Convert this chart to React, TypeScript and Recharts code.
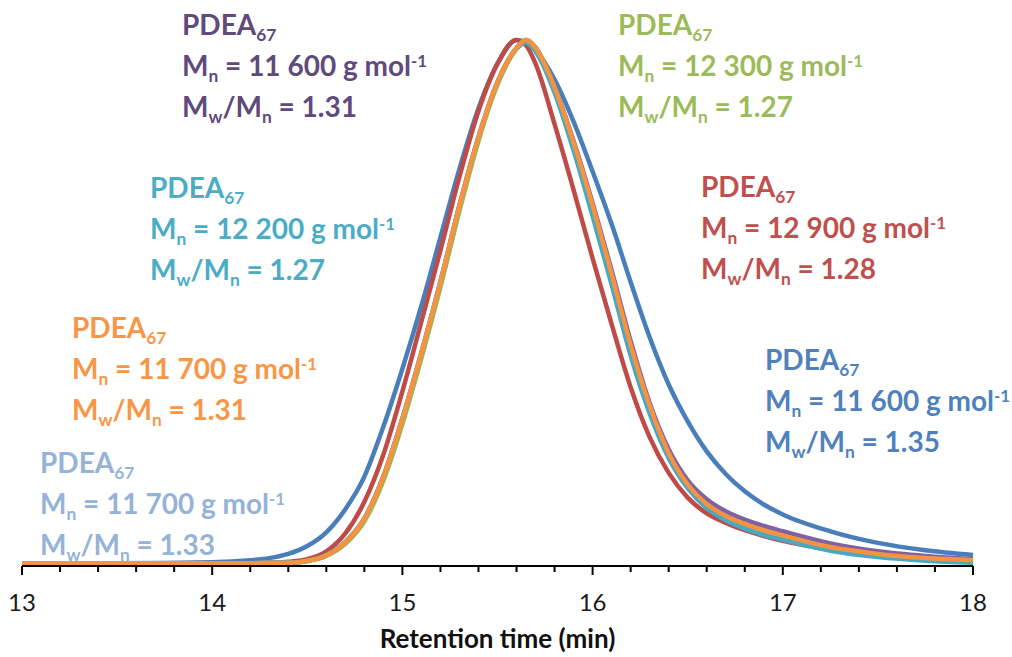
import React from "react";
import { LineChart, Line, XAxis, YAxis } from "recharts";

// retention time (min) at which the traces were read
const times = [
  13, 13.5, 14, 14.2, 14.3, 14.4, 14.5, 14.6, 14.7, 14.8, 14.9, 15, 15.1, 15.2,
  15.3, 15.4, 15.5, 15.6, 15.65, 15.7, 15.8, 15.9, 16, 16.1, 16.2, 16.3, 16.4,
  16.5, 16.6, 16.7, 16.8, 16.9, 17, 17.25, 17.5, 17.75, 18,
];

// normalised RI signal, one array per sample
const blueTrace = [
  0.005, 0.005, 0.007, 0.011, 0.015, 0.023, 0.038, 0.064, 0.108, 0.17, 0.265,
  0.375, 0.495, 0.625, 0.755, 0.87, 0.955, 1.0, 0.995, 0.98, 0.925, 0.845, 0.75,
  0.65, 0.54, 0.435, 0.345, 0.275, 0.218, 0.175, 0.142, 0.117, 0.098, 0.066,
  0.044, 0.03, 0.021,
];
const redTrace = [
  0.004, 0.004, 0.004, 0.005, 0.006, 0.008, 0.013, 0.028, 0.062, 0.122, 0.212,
  0.332, 0.465, 0.6, 0.74, 0.865, 0.955, 1.0, 0.99, 0.955, 0.84, 0.715, 0.585,
  0.46, 0.34, 0.245, 0.177, 0.13, 0.1, 0.082, 0.068, 0.057, 0.048, 0.031, 0.02,
  0.013, 0.008,
];
const orangeTrace = [
  0.005, 0.005, 0.005, 0.005, 0.006, 0.006, 0.01, 0.02, 0.045, 0.09, 0.17, 0.28,
  0.405, 0.54, 0.685, 0.815, 0.92, 0.985, 1.0, 0.985, 0.91, 0.805, 0.685, 0.555,
  0.42, 0.305, 0.215, 0.155, 0.118, 0.095, 0.08, 0.068, 0.058, 0.036, 0.023,
  0.015, 0.011,
];
const tealTrace = [
  0.005, 0.005, 0.005, 0.005, 0.006, 0.006, 0.01, 0.021, 0.046, 0.091, 0.171,
  0.281, 0.406, 0.541, 0.686, 0.816, 0.92, 0.984, 0.995, 0.978, 0.9, 0.79,
  0.665, 0.535, 0.4, 0.29, 0.205, 0.148, 0.11, 0.087, 0.071, 0.059, 0.05, 0.029,
  0.017, 0.01, 0.006,
];
const purpleTrace = [
  0.005, 0.005, 0.005, 0.005, 0.006, 0.006, 0.01, 0.02, 0.045, 0.09, 0.17, 0.28,
  0.405, 0.54, 0.685, 0.815, 0.92, 0.985, 1.0, 0.986, 0.912, 0.808, 0.69,
  0.562, 0.428, 0.31, 0.222, 0.163, 0.127, 0.104, 0.088, 0.076, 0.066, 0.043,
  0.028, 0.019, 0.013,
];
const greenTrace = [
  0.005, 0.005, 0.005, 0.005, 0.006, 0.006, 0.009, 0.019, 0.042, 0.085, 0.162,
  0.27, 0.395, 0.53, 0.675, 0.808, 0.915, 0.983, 1.0, 0.986, 0.91, 0.803, 0.682,
  0.552, 0.416, 0.3, 0.212, 0.152, 0.115, 0.092, 0.077, 0.065, 0.055, 0.034,
  0.021, 0.014, 0.01,
];
const lightBlueTrace = [
  0.005, 0.005, 0.005, 0.005, 0.006, 0.006, 0.01, 0.02, 0.045, 0.089, 0.169,
  0.279, 0.404, 0.539, 0.684, 0.814, 0.919, 0.984, 1.0, 0.985, 0.908, 0.803,
  0.683, 0.553, 0.418, 0.303, 0.214, 0.154, 0.117, 0.094, 0.079, 0.067, 0.057,
  0.035, 0.022, 0.015, 0.011,
];

const majorTicks = [13, 14, 15, 16, 17, 18];
const minorTicks = [
  13, 13.2, 13.4, 13.6, 13.8, 14, 14.2, 14.4, 14.6, 14.8, 15, 15.2, 15.4, 15.6,
  15.8, 16, 16.2, 16.4, 16.6, 16.8, 17, 17.2, 17.4, 17.6, 17.8, 18,
];

// sample labels
const sampleKeys = ["purple", "green", "teal", "red", "orange", "blue", "lightBlue"];
const mnValues = ["11 600", "12 300", "12 200", "12 900", "11 700", "11 600", "11 700"];
const dispersities = ["1.31", "1.27", "1.27", "1.28", "1.31", "1.35", "1.33"];

const textColor: Record<string, string> = {
  purple: "#604a7b",
  green: "#9bbb59",
  teal: "#4bacc6",
  red: "#c0504d",
  orange: "#f79646",
  blue: "#4f81bd",
  lightBlue: "#95b3d7",
};
const lineColor: Record<string, string> = {
  purple: "#7e62a1",
  green: "#98b954",
  teal: "#46aac5",
  red: "#be4b48",
  orange: "#f69240",
  blue: "#4a7ebb",
  lightBlue: "#93b1d6",
};
const labelPos: Record<string, { left: number; top: number }> = {
  purple: { left: 182, top: 6 },
  green: { left: 618, top: 6 },
  teal: { left: 150, top: 169 },
  red: { left: 701, top: 168 },
  orange: { left: 72, top: 309 },
  blue: { left: 765, top: 341 },
  lightBlue: { left: 40, top: 444 },
};

const rows = times.map((t, i) => ({
  t,
  blue: blueTrace[i],
  red: redTrace[i],
  orange: orangeTrace[i],
  teal: tealTrace[i],
  purple: purpleTrace[i],
  green: greenTrace[i],
  lightBlue: lightBlueTrace[i],
}));

const drawOrder = ["lightBlue", "blue", "red", "purple", "green", "teal", "orange"];

function AxisTick(props: any) {
  const { x, y, payload } = props;
  const v = payload.value as number;
  const major = majorTicks.some((m) => Math.abs(m - v) < 1e-6);
  return (
    <g>
      <line x1={x} x2={x} y1={y} y2={y + (major ? 9 : 6)} stroke="#000" strokeWidth={2} />
      {major ? (
        <text
          x={x}
          y={y + 45}
          textAnchor="middle"
          fontFamily="Lato"
          fontSize={24}
          fill="#1a1a1a"
        >
          {Math.round(v)}
        </text>
      ) : null}
    </g>
  );
}

const sub = (s: string) => (
  <span style={{ fontSize: "0.62em", position: "relative", top: 6 }}>{s}</span>
);
const sup = (s: string) => (
  <span style={{ fontSize: "0.6em", position: "relative", top: -9 }}>{s}</span>
);

function SampleLabel({ k, i }: { k: string; i: number }) {
  const p = labelPos[k];
  return (
    <div
      style={{
        position: "absolute",
        left: p.left,
        top: p.top,
        color: textColor[k],
        fontFamily: "Lato",
        fontWeight: 700,
        fontSize: 28,
        lineHeight: "37px",
        whiteSpace: "nowrap",
      }}
    >
      <div>PDEA{sub("67")}</div>
      <div>
        M{sub("n")} = {mnValues[i]} g mol{sup("-1")}
      </div>
      <div>
        M{sub("w")}/M{sub("n")} = {dispersities[i]}
      </div>
    </div>
  );
}

export default function App() {
  return (
    <div
      style={{
        position: "absolute",
        left: 0,
        top: 0,
        width: 1012,
        height: 657,
        background: "#fff",
        overflow: "hidden",
      }}
    >
      <LineChart
        width={1012}
        height={657}
        data={rows}
        margin={{ top: 40, right: 39, bottom: 0, left: 22 }}
      >
        <XAxis
          dataKey="t"
          type="number"
          domain={[13, 18]}
          ticks={minorTicks}
          interval={0}
          tickLine={false}
          tickSize={0}
          tickMargin={0}
          tick={<AxisTick />}
          axisLine={{ stroke: "#000", strokeWidth: 2 }}
          height={91}
          label={{
            value: "Retention time (min)",
            position: "insideBottom",
            offset: 9,
            fontFamily: "Lato",
            fontWeight: 700,
            fontSize: 26,
            fill: "#111",
          }}
        />
        <YAxis hide domain={[0, 1]} />
        {drawOrder.map((k) => (
          <Line
            key={k}
            dataKey={k}
            type="monotone"
            stroke={lineColor[k]}
            strokeWidth={4.5}
            dot={false}
            activeDot={false}
            isAnimationActive={false}
          />
        ))}
      </LineChart>
      {sampleKeys.map((k, i) => (
        <SampleLabel key={k} k={k} i={i} />
      ))}
    </div>
  );
}
